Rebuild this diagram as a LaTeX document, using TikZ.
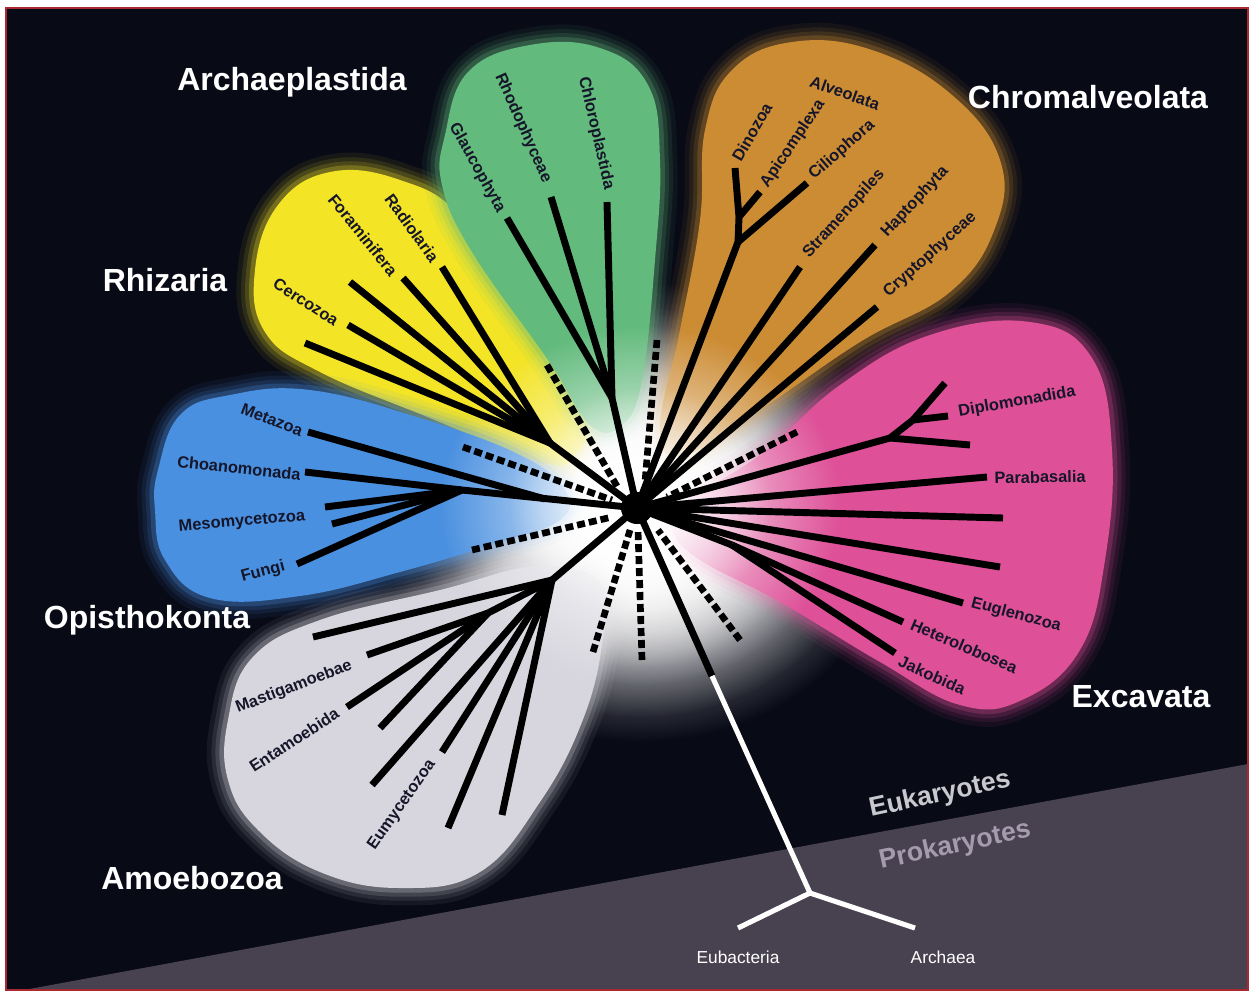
\documentclass[tikz,border=0pt]{standalone}
\usepackage{fontspec}
\setmainfont{Liberation Sans}
\usetikzlibrary{fadings}
\tikzfading[name=glowfade, inner color=transparent!0, outer color=transparent!100]
\definecolor{bg}{RGB}{8,10,22}
\definecolor{prok}{RGB}{72,66,80}
\definecolor{framered}{RGB}{170,40,50}
\definecolor{cyel}{RGB}{243,228,38}
\definecolor{cgreen}{RGB}{98,186,124}
\definecolor{corange}{RGB}{204,140,52}
\definecolor{cpink}{RGB}{222,80,152}
\definecolor{cblue}{RGB}{74,144,224}
\definecolor{cgray}{RGB}{215,214,222}
\definecolor{labcol}{RGB}{22,22,42}
\definecolor{eukcol}{RGB}{200,200,206}
\definecolor{prokcol}{RGB}{165,155,175}
\begin{document}
\begin{tikzpicture}[x=0.75pt, y=-0.75pt,
  branch/.style={line width=5.2pt, draw=black, line join=round},
  dashbr/.style={line width=5pt, draw=black, dash pattern=on 6pt off 3pt},
  wbranch/.style={line width=3.8pt, draw=white, line join=round},
  bigl/.style={text=white, font=\fontsize{24}{28}\selectfont\bfseries},
  smalll/.style={text=labcol, font=\fontsize{12.3}{14}\selectfont\bfseries, inner sep=0pt},
  blob/.style={fill=#1,
    preaction={draw=#1, draw opacity=0.07, line width=26pt, line join=round},
    preaction={draw=#1, draw opacity=0.1, line width=19pt, line join=round},
    preaction={draw=#1, draw opacity=0.15, line width=13pt, line join=round},
    preaction={draw=#1, draw opacity=0.25, line width=7pt, line join=round}},
]
\useasboundingbox (0,0) rectangle (1252,993);
\fill[white] (0,0) rectangle (1252,993);
\fill[bg] (6,8) rectangle (1248,990);
\fill[prok] (24,990) -- (1248,764) -- (1248,990) -- cycle;
\draw[framered, line width=1.6pt] (6,8) rectangle (1248,990);

% outer glow
\fill[white, path fading=glowfade] (640,512) ellipse [x radius=260, y radius=230];
\fill[white, path fading=glowfade] (640,512) ellipse [x radius=230, y radius=205];
\fill[white, path fading=glowfade] (640,512) ellipse [x radius=170, y radius=155];

% blobs
\path[blob=cyel] plot[smooth cycle, tension=0.7] coordinates {(255,270) (278,205) (330,172) (400,180) (462,218) (530,320) (585,410) (575,455) (540,462) (430,418) (320,372) (265,332)};
\path[blob=cgreen] plot[smooth cycle, tension=0.7] coordinates {(445,135) (468,72) (530,45) (600,48) (648,85) (660,160) (655,260) (642,380) (622,425) (590,425) (548,360) (472,252) (442,185)};
\path[blob=corange] plot[smooth cycle, tension=0.7] coordinates {(705,130) (732,70) (792,42) (872,50) (952,95) (1000,160) (995,228) (950,292) (860,342) (760,410) (685,455) (660,430) (680,330) (700,220)};
\path[blob=cpink] plot[smooth cycle, tension=0.7] coordinates {(680,505) (760,455) (840,385) (930,335) (1030,322) (1092,358) (1112,450) (1105,560) (1080,650) (1022,700) (960,705) (880,662) (780,602) (700,560) (672,530)};
\path[blob=cblue] plot[smooth cycle, tension=0.7] coordinates {(158,470) (180,415) (230,395) (310,390) (420,418) (520,455) (565,490) (560,520) (500,542) (400,572) (300,596) (210,598) (165,560) (155,510)};
\path[blob=cgray] plot[smooth cycle, tension=0.7] coordinates {(228,720) (252,658) (320,620) (440,590) (540,566) (602,585) (602,645) (582,722) (540,802) (480,872) (400,888) (320,872) (258,830) (228,780)};

% inner glow
\fill[white, path fading=glowfade] (640,505) ellipse [x radius=200, y radius=180];
\fill[white, path fading=glowfade] (640,505) ellipse [x radius=130, y radius=118];

% coordinates
\coordinate (C) at (637,508);
% Rhizaria
\coordinate (R) at (550,443);
\coordinate (r1) at (305,343);
\coordinate (r2) at (348,325);
\coordinate (r3) at (350,282);
\coordinate (r4) at (403,278);
\coordinate (r5) at (442,267);
% Archaeplastida
\coordinate (G) at (612,398);
\coordinate (g1) at (507,218);
\coordinate (g2) at (551,197);
\coordinate (g3) at (607,202);
% Chromalveolata
\coordinate (O1) at (738,242);
\coordinate (O2) at (739,217);
\coordinate (o1) at (735,168);
\coordinate (o2) at (760,192);
\coordinate (o3) at (807,183);
\coordinate (o4) at (800,267);
\coordinate (o5) at (875,245);
\coordinate (o6) at (877,307);
% Excavata
\coordinate (N1) at (890,438);
\coordinate (N2) at (913,420);
\coordinate (X) at (732,545);
\coordinate (e1) at (945,383);
\coordinate (e2) at (948,416);
\coordinate (e3) at (970,445);
\coordinate (e4) at (987,477);
\coordinate (e5) at (1003,518);
\coordinate (e6) at (1000,567);
\coordinate (e7) at (963,603);
\coordinate (e8) at (903,622);
\coordinate (e9) at (895,653);
% Opisthokonta
\coordinate (B) at (462,490);
\coordinate (B2) at (545,499);
\coordinate (b1) at (308,432);
\coordinate (b2) at (305,472);
\coordinate (b3) at (325,507);
\coordinate (b4) at (332,524);
\coordinate (b5) at (297,564);
% Amoebozoa
\coordinate (A) at (552,580);
\coordinate (A2) at (488,613);
\coordinate (a1) at (313,637);
\coordinate (a2) at (367,655);
\coordinate (a3) at (347,707);
\coordinate (a4) at (380,728);
\coordinate (a5) at (372,785);
\coordinate (a6) at (442,752);
\coordinate (a7) at (448,828);
\coordinate (a8) at (502,815);
% dashed ends
\coordinate (d1a) at (657,340); \coordinate (d1b) at (645,482);
\coordinate (d2a) at (547,365); \coordinate (d2b) at (618,488);
\coordinate (d3a) at (463,447); \coordinate (d3b) at (612,500);
\coordinate (d4a) at (472,550); \coordinate (d4b) at (612,517);
\coordinate (d5a) at (593,652); \coordinate (d5b) at (630,530);
\coordinate (d6a) at (642,660); \coordinate (d6b) at (638,530);
\coordinate (d7a) at (740,640); \coordinate (d7b) at (658,530);
\coordinate (d8a) at (797,432); \coordinate (d8b) at (667,497);
% root
\coordinate (T) at (712,676);
\coordinate (J) at (810,893);
\coordinate (Eb) at (738,928);
\coordinate (Ar) at (915,928);

% dashed
\foreach \i in {1,...,8} { \draw[dashbr] (d\i a) -- (d\i b); }

% branches
\foreach \p in {r1,r2,r3,r4,r5} { \draw[branch] (\p) -- (R); }
\draw[branch] (R) -- (C);
\foreach \p in {g1,g2,g3} { \draw[branch] (\p) -- (G); }
\draw[branch] (G) -- (C);
\draw[branch] (o1) -- (O2);
\draw[branch] (o2) -- (O2);
\draw[branch] (O2) -- (O1);
\draw[branch] (o3) -- (O1);
\draw[branch] (O1) -- (C);
\foreach \p in {o4,o5,o6} { \draw[branch] (\p) -- (C); }
\draw[branch] (e1) -- (N2);
\draw[branch] (e2) -- (N2);
\draw[branch] (N2) -- (N1);
\draw[branch] (e3) -- (N1);
\draw[branch] (N1) -- (C);
\foreach \p in {e4,e5,e6,e7} { \draw[branch] (\p) -- (C); }
\draw[branch] (e8) -- (X);
\draw[branch] (e9) -- (X);
\draw[branch] (X) -- (C);
\foreach \p in {b2,b3,b4,b5} { \draw[branch] (\p) -- (B); }
\draw[branch] (B) -- (C);
\draw[branch] (b1) -- (B2);
\foreach \p in {a2,a3,a4} { \draw[branch] (\p) -- (A2); }
\draw[branch] (A2) -- (A);
\foreach \p in {a1,a5,a6,a7,a8} { \draw[branch] (\p) -- (A); }
\draw[branch] (A) -- (C);
\draw[branch] (C) -- (T);
\draw[wbranch] (T) -- (J);
\draw[wbranch] (J) -- (Eb);
\draw[wbranch] (J) -- (Ar);
\node[circle, fill=black, minimum size=24pt, inner sep=0pt] (hub) at (C) {};

% big labels
\node[bigl] (lArch) at (292,82) {Archaeplastida};
\node[bigl] (lChrom) at (1088,97) {Chromalveolata};
\node[bigl] (lRhiz) at (165,280) {Rhizaria};
\node[bigl] (lOpis) at (147,620) {Opisthokonta};
\node[bigl] (lExc) at (1141,697) {Excavata};
\node[bigl] (lAmoe) at (192,878) {Amoebozoa};

% small labels
\node[smalll, rotate=-61] (tGla) at (477,168) {Glaucophyta};
\node[smalll, rotate=-66] (tRho) at (523,128) {Rhodophyceae};
\node[smalll, rotate=-77] (tChl) at (596,133) {Chloroplastida};
\node[smalll, rotate=-54] (tRad) at (412,228) {Radiolaria};
\node[smalll, rotate=-51] (tFor) at (363,235) {Foraminifera};
\node[smalll, rotate=-33] (tCer) at (306,302) {Cercozoa};
\node[smalll, rotate=-21] (tMet) at (272,420) {Metazoa};
\node[smalll, rotate=-6] (tCho) at (239,468) {Choanomonada};
\node[smalll, rotate=5] (tMes) at (242,522) {Mesomycetozoa};
\node[smalll, rotate=15] (tFun) at (263,572) {Fungi};
\node[smalll, rotate=21] (tMas) at (294,687) {Mastigamoebae};
\node[smalll, rotate=33] (tEnt) at (294,740) {Entamoebida};
\node[smalll, rotate=55] (tEum) at (402,805) {Eumycetozoa};
\node[smalll, rotate=60] (tDin) at (752,132) {Dinozoa};
\node[smalll, rotate=56] (tApi) at (793,144) {Apicomplexa};
\node[smalll, rotate=-20] (tAlv) at (845,93) {Alveolata};
\node[smalll, rotate=41] (tCil) at (842,150) {Ciliophora};
\node[smalll, rotate=48] (tStr) at (844,214) {Stramenopiles};
\node[smalll, rotate=47] (tHap) at (915,202) {Haptophyta};
\node[smalll, rotate=42] (tCry) at (930,255) {Cryptophyceae};
\node[smalll, rotate=10] (tDip) at (1017,402) {Diplomonadida};
\node[smalll, rotate=1] (tPar) at (1040,477) {Parabasalia};
\node[smalll, rotate=-15] (tEug) at (1016,615) {Euglenozoa};
\node[smalll, rotate=-23] (tHet) at (964,646) {Heterolobosea};
\node[smalll, rotate=-24] (tJak) at (932,675) {Jakobida};

% domain labels
\node[text=eukcol, font=\fontsize{20}{24}\selectfont\bfseries, rotate=12] (tEuk) at (940,795) {Eukaryotes};
\node[text=prokcol, font=\fontsize{20}{24}\selectfont\bfseries, rotate=12] (tPro) at (955,846) {Prokaryotes};
\node[text=white, font=\fontsize{13}{15}\selectfont] (tEub) at (738,957) {Eubacteria};
\node[text=white, font=\fontsize{13}{15}\selectfont] (tArc) at (943,957) {Archaea};
\end{tikzpicture}
\end{document}
